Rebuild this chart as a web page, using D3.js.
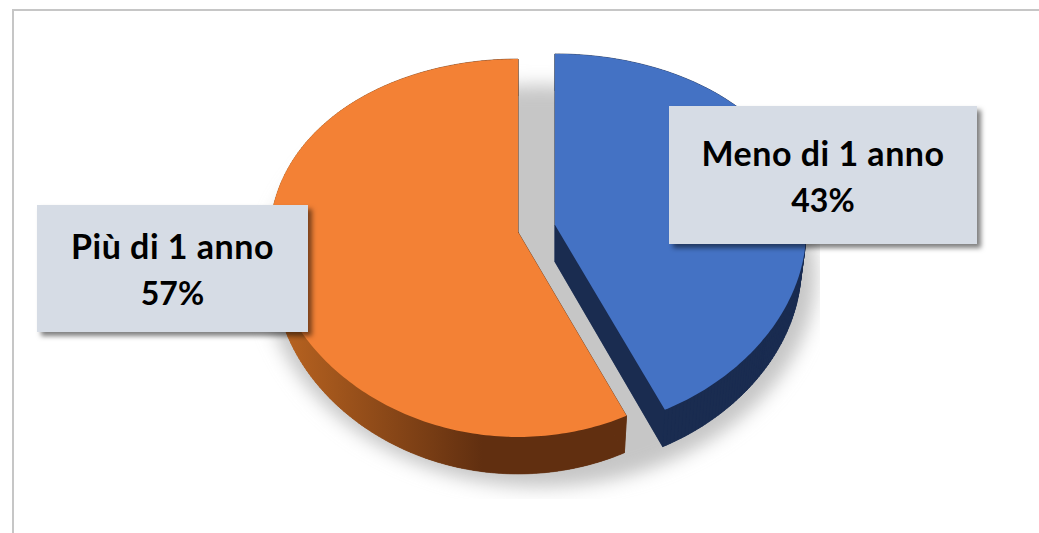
<!DOCTYPE html>
<html>
<head>
<meta charset="utf-8">
<script src="https://cdnjs.cloudflare.com/ajax/libs/d3/7.8.5/d3.min.js"></script>
<style>
html,body{margin:0;padding:0;background:#fff;overflow:hidden}
svg{display:block}
text{font-family:Lato,"Open Sans",sans-serif;font-weight:700;fill:#000}
</style>
</head>
<body>
<svg id="chart" width="1039" height="533"></svg>
<script>
// Slice shares, in clockwise drawing order from twelve o'clock.
const categories = ["Meno di 1 anno", "Più di 1 anno"];
const shares = [43, 57];
const topColors = ["#4472c4", "#f38135"];

const W = 1039, H = 533;
const svg = d3.select("#chart");
const defs = svg.append("defs");

// Tilted-disc projection: the far edge of the pie is foreshortened.
const depth = 37, baseShrink = 0.98, tiltX = 0.03;
const discs = [
  { x: 555, y: 225, rx: 251, ry: 187, tilt: 0.093 },    // pulled-out slice
  { x: 518, y: 232, rx: 248, ry: 187.6, tilt: 0.0847 }  // remaining slice
];
function project(angle, r, disc, lower) {
  const u = Math.sin(angle) * r, v = -Math.cos(angle) * r;
  return [
    disc.x + (lower ? baseShrink : 1) * disc.rx * u / (1 - tiltX * v),
    disc.y + (lower ? depth : 0) + disc.ry * v / (1 - disc.tilt * v)
  ];
}

const pie = d3.pie().sort(null).value(d => d);
const arcs = pie(shares);
const line = d3.line();

function outline(arc, disc, lower) {
  const n = Math.ceil((arc.endAngle - arc.startAngle) * 60);
  const rim = d3.range(n + 1).map(i =>
    project(arc.startAngle + (arc.endAngle - arc.startAngle) * i / n, 1, disc, lower));
  return [project(0, 0, disc, lower), ...rim];
}

// Filters and paint
const soft = defs.append("filter").attr("id", "floorShadow")
  .attr("x", "-20%").attr("y", "-20%").attr("width", "140%").attr("height", "140%");
soft.append("feGaussianBlur").attr("stdDeviation", 9);

const labelShadow = defs.append("filter").attr("id", "labelShadow")
  .attr("x", "-10%").attr("y", "-10%").attr("width", "125%").attr("height", "125%");
labelShadow.append("feDropShadow")
  .attr("dx", 4).attr("dy", 4).attr("stdDeviation", 2.5)
  .attr("flood-color", "#000").attr("flood-opacity", 0.5);

const wall = defs.append("linearGradient").attr("id", "orangeWall")
  .attr("gradientUnits", "userSpaceOnUse")
  .attr("x1", 275).attr("x2", 482).attr("y1", 0).attr("y2", 0);
wall.append("stop").attr("offset", 0).attr("stop-color", "#bb6521");
wall.append("stop").attr("offset", 1).attr("stop-color", "#612f10");

defs.append("clipPath").attr("id", "floorClip").append("rect")
  .attr("x", 240).attr("y", 50).attr("width", 580).attr("height", 449);

// Frame
svg.append("path")
  .attr("d", line([[13, H], [13, 10], [W, 10]]))
  .attr("fill", "none").attr("stroke", "#c6c6c6").attr("stroke-width", 2);

// Soft cast shadow on the floor beneath the whole pie
const whole = { startAngle: 0, endAngle: 2 * Math.PI };
const floorDisc = { x: 540, y: 269, rx: 276, ry: 199.5, tilt: 0.0847 };
svg.append("g").attr("clip-path", "url(#floorClip)")
  .append("path")
  .attr("d", line(outline(whole, floorDisc, false).slice(1)) + "Z")
  .attr("fill", "#c6c6c6")
  .attr("filter", "url(#floorShadow)");

// Slices: wall first, then the lit top face
const slices = svg.selectAll("g.slice").data(arcs).join("g").attr("class", "slice");

slices.each(function (d, i) {
  const g = d3.select(this);
  const upper = outline(d, discs[i], false);
  const lower = outline(d, discs[i], true);
  const paint = i === 1 ? "url(#orangeWall)" : "#1a2c50";
  g.append("path").attr("d", line(lower) + "Z").attr("fill", paint);
  const quads = upper.map((p, k) => {
    const nx = (k + 1) % upper.length;
    return line([p, upper[nx], lower[nx], lower[k]]) + "Z";
  });
  g.selectAll("path.wall").data(quads).join("path")
    .attr("class", "wall").attr("d", q => q)
    .attr("fill", paint).attr("stroke", paint).attr("stroke-width", 0.6);
  g.append("path").attr("d", line(upper) + "Z").attr("fill", topColors[i]);
});

// Data labels
const labelBoxes = [
  { x: 669, y: 106, w: 308, h: 138, first: 60, second: 106 },
  { x: 37, y: 205, w: 271, h: 127, first: 54, second: 100 }
];
const labels = svg.selectAll("g.label").data(categories).join("g").attr("class", "label");
labels.append("rect")
  .attr("x", (d, i) => labelBoxes[i].x).attr("y", (d, i) => labelBoxes[i].y)
  .attr("width", (d, i) => labelBoxes[i].w).attr("height", (d, i) => labelBoxes[i].h)
  .attr("fill", "#d6dce5").attr("filter", "url(#labelShadow)");
const labelText = labels.append("text").attr("text-anchor", "middle");
labelText.append("tspan")
  .attr("x", (d, i) => labelBoxes[i].x + labelBoxes[i].w / 2)
  .attr("y", (d, i) => labelBoxes[i].y + labelBoxes[i].first)
  .attr("font-size", 34).attr("letter-spacing", 0.5)
  .text(d => d);
labelText.append("tspan")
  .attr("x", (d, i) => labelBoxes[i].x + labelBoxes[i].w / 2)
  .attr("y", (d, i) => labelBoxes[i].y + labelBoxes[i].second)
  .attr("font-size", 32)
  .text((d, i) => shares[i] + "%");
</script>
</body>
</html>
